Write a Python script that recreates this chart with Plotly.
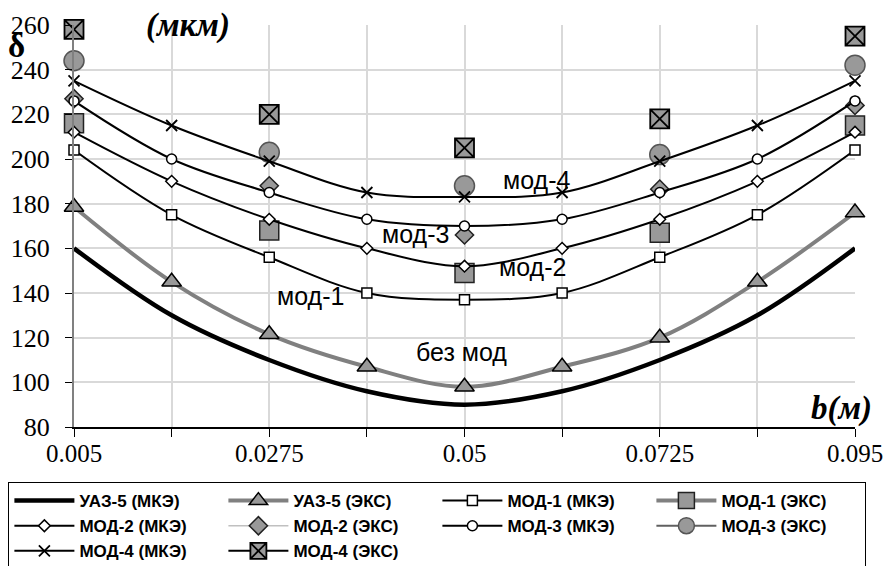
import plotly.graph_objects as go

# ---- data ----
B = [0.005, 0.01625, 0.0275, 0.03875, 0.05, 0.06125, 0.0725, 0.08375, 0.095]
B_EXP = [0.005, 0.0275, 0.05, 0.0725, 0.095]
X_TICK_TEXT = ["0.005", "", "0.0275", "", "0.05", "", "0.0725", "", "0.095"]

UAZ5_FEM = [160, 130, 110, 96, 90, 96, 110, 130, 160]
UAZ5_EXP = [178.5, 145, 121.5, 107, 98, 107, 120, 145, 176]
MOD1_FEM = [204, 175, 156, 140, 137, 140, 156, 175, 204]
MOD1_EXP = [216, 168, 149, 167, 215]
MOD2_FEM = [212, 190, 173, 160, 152, 160, 173, 190, 212]
MOD2_EXP = [227, 188, 166, 186.5, 224]
MOD3_FEM = [226, 200, 185, 173, 170, 173, 185, 200, 226]
MOD3_EXP = [244, 203, 188, 202, 242]
MOD4_FEM = [235, 215, 199, 185, 183, 185, 199, 215, 235]
MOD4_EXP = [258, 220, 205, 218, 255]


def gapped(vals):
    out = []
    for v in vals:
        out += [v, None]
    return out[:-1]


GRAY = "#999999"
fig = go.Figure()

fig.add_trace(go.Scatter(x=B, y=UAZ5_FEM, name="УАЗ-5 (МКЭ)", mode="lines",
                         line=dict(color="black", width=4.5, shape="spline")))
fig.add_trace(go.Scatter(x=B, y=UAZ5_EXP, name="УАЗ-5 (ЭКС)", mode="lines+markers",
                         line=dict(color="#808080", width=4, shape="spline"),
                         marker=dict(symbol="triangle-up", size=17, color=GRAY,
                                     line=dict(color="black", width=1.5))))
fig.add_trace(go.Scatter(x=B, y=MOD1_FEM, name="МОД-1 (МКЭ)", mode="lines+markers",
                         line=dict(color="black", width=2, shape="spline"),
                         marker=dict(symbol="square", size=10, color="white",
                                     line=dict(color="black", width=1.5))))
fig.add_trace(go.Scatter(x=gapped(B_EXP), y=gapped(MOD1_EXP), name="МОД-1 (ЭКС)",
                         mode="lines+markers", connectgaps=False,
                         line=dict(color="#808080", width=4),
                         marker=dict(symbol="square", size=19, color=GRAY,
                                     line=dict(color="#222222", width=1.5))))
fig.add_trace(go.Scatter(x=B, y=MOD2_FEM, name="МОД-2 (МКЭ)", mode="lines+markers",
                         line=dict(color="black", width=2, shape="spline"),
                         marker=dict(symbol="diamond", size=9, color="white",
                                     line=dict(color="black", width=1.5))))
fig.add_trace(go.Scatter(x=gapped(B_EXP), y=gapped(MOD2_EXP), name="МОД-2 (ЭКС)",
                         mode="lines+markers", connectgaps=False,
                         line=dict(color="#c0c0c0", width=1.5),
                         marker=dict(symbol="diamond", size=14, color=GRAY,
                                     line=dict(color="#222222", width=1.5))))
fig.add_trace(go.Scatter(x=B, y=MOD3_FEM, name="МОД-3 (МКЭ)", mode="lines+markers",
                         line=dict(color="black", width=2, shape="spline"),
                         marker=dict(symbol="circle", size=10, color="white",
                                     line=dict(color="black", width=1.5))))
fig.add_trace(go.Scatter(x=gapped(B_EXP), y=gapped(MOD3_EXP), name="МОД-3 (ЭКС)",
                         mode="lines+markers", connectgaps=False,
                         line=dict(color="#606060", width=2),
                         marker=dict(symbol="circle", size=20, color=GRAY,
                                     line=dict(color="#555555", width=1.5))))
fig.add_trace(go.Scatter(x=B, y=MOD4_FEM, name="МОД-4 (МКЭ)", mode="lines+markers",
                         line=dict(color="black", width=2, shape="spline"),
                         marker=dict(symbol="x-thin-open", size=11, color="black",
                                     line=dict(color="black", width=1.8))))
fig.add_trace(go.Scatter(x=gapped(B_EXP), y=gapped(MOD4_EXP), name="МОД-4 (ЭКС)",
                         mode="lines+markers", connectgaps=False,
                         line=dict(color="black", width=2),
                         marker=dict(symbol="square-x", size=19, color=GRAY,
                                     line=dict(color="black", width=1.8))))

fig.update_traces(cliponaxis=False)

ann_font = dict(family="Liberation Sans", size=25, color="black")
annotations = [
    dict(x=0.0583, y=190.5, text="мод-4", showarrow=False, font=ann_font),
    dict(x=0.0443, y=166.3, text="мод-3", showarrow=False, font=ann_font),
    dict(x=0.0578, y=151.6, text="мод-2", showarrow=False, font=ann_font),
    dict(x=0.0323, y=138.6, text="мод-1", showarrow=False, font=ann_font),
    dict(x=0.0497, y=113.5, text="без мод", showarrow=False, font=ann_font),
    dict(xref="paper", yref="paper", x=-0.0735, y=0.948, xanchor="center", yanchor="middle",
         text="<b>δ</b>", showarrow=False,
         font=dict(family="Liberation Serif", size=33, color="black")),
    dict(xref="paper", yref="paper", x=0.146, y=1.0, xanchor="center", yanchor="middle",
         text="<b><i>(мкм)</i></b>", showarrow=False,
         font=dict(family="Liberation Serif", size=33, color="black")),
    dict(xref="paper", yref="paper", x=0.983, y=0.045, xanchor="center", yanchor="middle",
         text="<b><i>b(м)</i></b>", showarrow=False,
         font=dict(family="Liberation Serif", size=33, color="black")),
]

fig.update_layout(
    width=884, height=566,
    margin=dict(l=73.6, r=28.5, t=24.5, b=139, autoexpand=False),
    paper_bgcolor="white", plot_bgcolor="white",
    annotations=annotations,
    showlegend=True,
    legend=dict(orientation="h", x=-0.084, xanchor="left", y=-0.137, yanchor="top",
                bordercolor="black", borderwidth=1, bgcolor="white",
                entrywidth=139, entrywidthmode="pixels", itemwidth=60,
                font=dict(family="Liberation Sans", size=17, color="black", weight="bold"),
                traceorder="normal"),
    xaxis=dict(range=[0.005, 0.095], tickmode="array", tickvals=B, ticktext=X_TICK_TEXT,
               showgrid=True, gridcolor="#d9d9d9", gridwidth=1.5,
               showline=True, linecolor="black", linewidth=1.5,
               ticks="outside", ticklen=8, tickcolor="black", tickwidth=1,
               ticklabeloverflow="allow", ticklabelstandoff=-5,
               tickfont=dict(family="Liberation Serif", size=25, color="black"),
               zeroline=False),
    yaxis=dict(range=[80, 260], dtick=20, tick0=80,
               showgrid=True, gridcolor="#d9d9d9", gridwidth=1.5,
               showline=True, linecolor="#808080", linewidth=2,
               ticks="outside", ticklen=7, tickcolor="black", tickwidth=1,
               ticklabelstandoff=10,
               tickfont=dict(family="Liberation Serif", size=26, color="black"),
               zeroline=False),
)

# remove the browser's default 8px page margin so the figure fills the window
fig.write_html("out.html", config={"displayModeBar": False},
               post_script="document.body.style.margin='0';document.body.style.overflow='hidden';")
